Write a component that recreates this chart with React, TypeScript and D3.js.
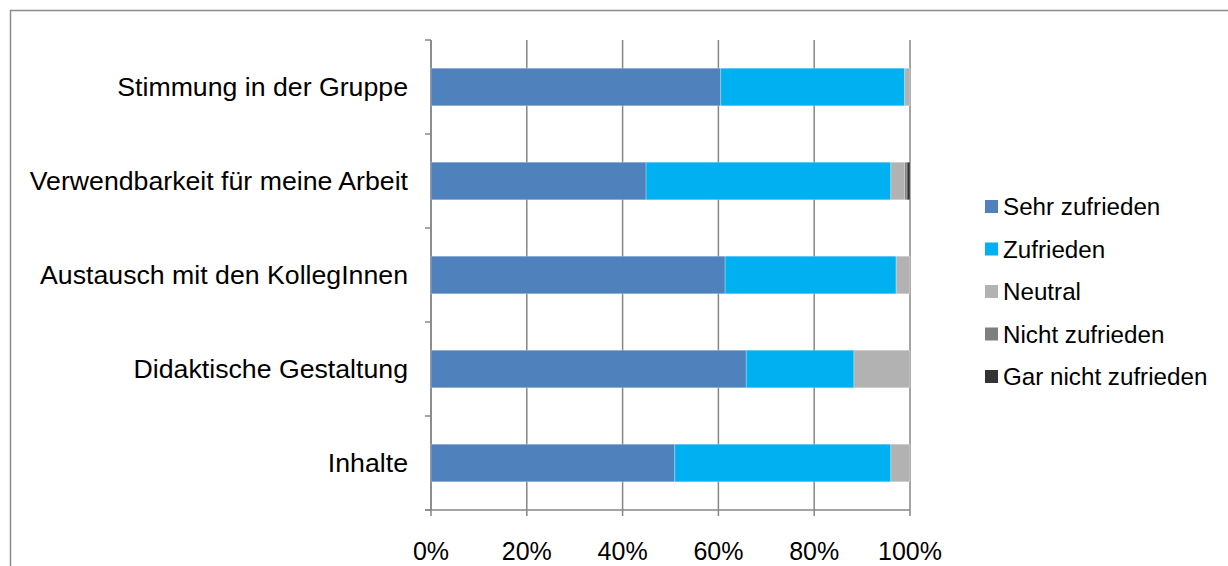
import * as d3 from "d3"

const categories = [
  "Stimmung in der Gruppe",
  "Verwendbarkeit für meine Arbeit",
  "Austausch mit den KollegInnen",
  "Didaktische Gestaltung",
  "Inhalte",
]

const seriesNames = [
  "Sehr zufrieden",
  "Zufrieden",
  "Neutral",
  "Nicht zufrieden",
  "Gar nicht zufrieden",
]

// percent values per category, same order as categories
const sehrZufrieden = [60.5, 44.9, 61.4, 65.8, 50.9]
const zufrieden = [38.4, 51.1, 35.7, 22.5, 45.1]
const neutral = [1.1, 2.9, 2.9, 11.7, 4.0]
const nichtZufrieden = [0, 0.5, 0, 0, 0]
const garNichtZufrieden = [0, 0.6, 0, 0, 0]

const colors = ["#4F81BD", "#00B0F0", "#B2B2B2", "#7F7F7F", "#333333"]
const xTicks = [0, 20, 40, 60, 80, 100]

const W = 1228
const H = 566
const M = { top: 40, left: 431, right: 318, bottom: 56 }
const GRID = "#868686"
const FONT = "'Liberation Sans', Arial, sans-serif"

export default function App() {
  const series = [sehrZufrieden, zufrieden, neutral, nichtZufrieden, garNichtZufrieden]

  const x = d3.scaleLinear().domain([0, 100]).range([M.left, W - M.right])
  const y = d3
    .scaleBand()
    .domain(categories)
    .range([M.top, H - M.bottom])
    .paddingInner(0.6)
    .paddingOuter(0.3)

  const rows = categories.map((c, i) => {
    const obj: Record<string, number | string> = { cat: c }
    seriesNames.forEach((s, j) => (obj[s] = series[j][i]))
    return obj
  })
  const stacked = d3.stack<any>().keys(seriesNames)(rows)

  const bandStep = y.step()
  const boundaries = d3.range(categories.length + 1).map((i) => M.top + i * bandStep)
  const y0 = M.top
  const y1 = H - M.bottom

  return (
    <div style={{ position: "fixed", left: 0, top: 0 }}>
      <svg width={W} height={H} style={{ display: "block", fontFamily: FONT }}>
        <rect x={0} y={0} width={W} height={H} fill="#fff" />
        <rect x={10.5} y={10.5} width={W + 20} height={H + 20} fill="none" stroke="#8c8c8c" strokeWidth={1.5} />

        {/* vertical gridlines */}
        {xTicks.map((t) => (
          <line key={t} x1={x(t)} x2={x(t)} y1={y0} y2={y1 + 6} stroke={GRID} strokeWidth={1.5} />
        ))}

        {/* y axis */}
        <line x1={M.left} x2={M.left} y1={y0} y2={y1} stroke={GRID} strokeWidth={1.5} />
        {boundaries.map((b, i) => (
          <line key={i} x1={M.left - 6} x2={M.left} y1={b} y2={b} stroke={GRID} strokeWidth={1.5} />
        ))}
        {/* x axis */}
        <line x1={M.left - 6} x2={x(100)} y1={y1} y2={y1} stroke={GRID} strokeWidth={1.5} />

        {/* bars */}
        {stacked.map((layer, j) => (
          <g key={layer.key} fill={colors[j]}>
            {layer.map((d, i) =>
              d[1] - d[0] > 0 ? (
                <rect
                  key={i}
                  x={x(d[0])}
                  y={y(categories[i])!}
                  width={x(d[1]) - x(d[0])}
                  height={y.bandwidth()}
                  stroke="#ffffff"
                  strokeOpacity={0.35}
                  strokeWidth={0.75}
                />
              ) : null,
            )}
          </g>
        ))}

        {/* category labels */}
        {categories.map((c) => (
          <text
            key={c}
            x={408}
            y={y(c)! + y.bandwidth() / 2}
            textAnchor="end"
            dominantBaseline="central"
            fontSize={26.7}
            fill="#000"
          >
            {c}
          </text>
        ))}

        {/* x tick labels */}
        {xTicks.map((t) => (
          <text key={t} x={x(t)} y={551} textAnchor="middle" dominantBaseline="central" fontSize={25} fill="#000">
            {t}%
          </text>
        ))}

        {/* legend */}
        {seriesNames.map((s, j) => (
          <g key={s} transform={`translate(985, ${206.5 + j * 42.5})`}>
            <rect x={0} y={-6.5} width={13} height={13} fill={colors[j]} />
            <text x={18} y={0} dominantBaseline="central" fontSize={24.2} fill="#000">
              {s}
            </text>
          </g>
        ))}
      </svg>
    </div>
  )
}
